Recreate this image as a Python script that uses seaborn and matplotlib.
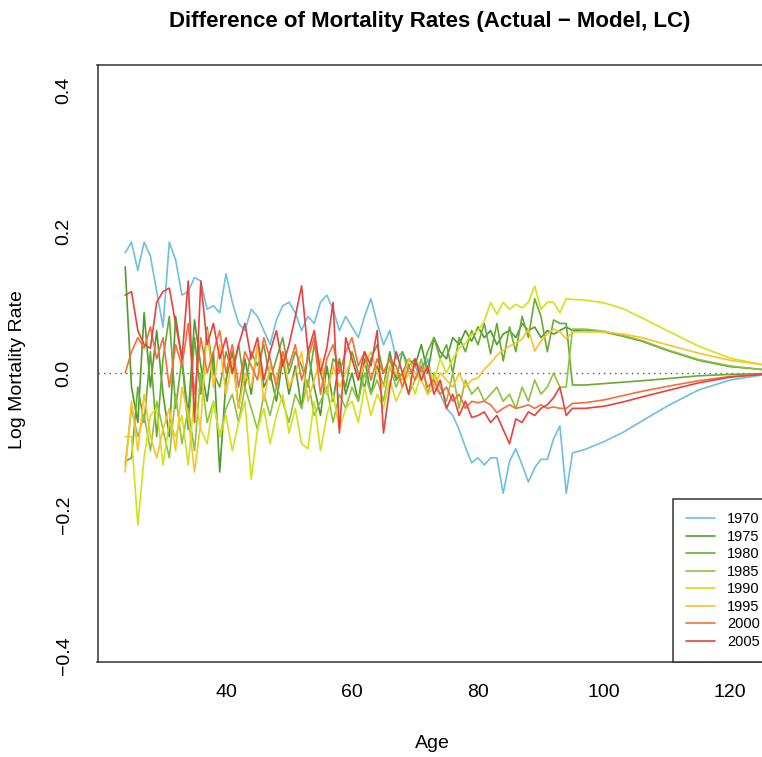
import pandas as pd
import matplotlib
matplotlib.use("Agg")
import matplotlib.pyplot as plt
import seaborn as sns

# ages: yearly up to 95, smooth tail afterwards
ages = list(range(24, 96)) + [97, 100, 103, 106, 110, 115, 120, 125]
years = ['1970', '1975', '1980', '1985', '1990', '1995', '2000', '2005']
colors = ['#6EC0DE', '#4F9B2B', '#68AB30', '#8DC43F', '#D2E21A', '#FCC12B', '#F3703A', '#E9413F']

diff_1970 = [0.17, 0.185, 0.145, 0.185, 0.165, 0.115,
             0.065, 0.185, 0.16, 0.11, 0.115, 0.135, 0.13, 0.09, 0.095, 0.085,
             0.14, 0.10, 0.07, 0.06, 0.09, 0.08, 0.06, 0.04, 0.075, 0.095,
             0.10, 0.085, 0.06, 0.08, 0.07, 0.10, 0.11, 0.09, 0.06, 0.08,
             0.065, 0.05, 0.08, 0.105, 0.07, 0.04, 0.06, 0.02, 0.03, 0.0,
             0.01, -0.01, 0.02, -0.02, -0.03, -0.05, -0.06, -0.08, -0.105, -0.127,
             -0.12, -0.13, -0.12, -0.12, -0.17, -0.125, -0.107, -0.13, -0.154, -0.134,
             -0.122, -0.122, -0.093, -0.075, -0.17, -0.113,
             -0.108, -0.097, -0.084, -0.068, -0.047, -0.024, -0.010, -0.003]

diff_1975 = [0.15, -0.02, -0.07, 0.085, -0.02, 0.06,
             -0.03, -0.09, 0.08, 0.02, -0.06, 0.075, 0.01, -0.04, 0.03, -0.14,
             -0.01, 0.03, -0.05, 0.02, -0.03, 0.04, -0.02, 0.0, -0.04, 0.02,
             -0.03, 0.01, -0.05, 0.03, -0.02, -0.06, 0.01, -0.04, 0.02, -0.03,
             0.0, -0.04, 0.02, -0.03, 0.01, -0.02, 0.03, -0.01, 0.0, 0.02,
             0.01, 0.04, 0.0, 0.05, 0.03, 0.02, 0.05, 0.04, 0.06, 0.045,
             0.065, 0.05, 0.06, 0.04, 0.055, 0.06, 0.05, 0.07, 0.06, 0.065,
             0.05, 0.06, 0.055, 0.06, 0.065, 0.06,
             0.061, 0.058, 0.052, 0.045, 0.032, 0.018, 0.009, 0.005]

diff_1980 = [-0.125, -0.12, -0.02, -0.07, 0.03, -0.09,
             0.02, 0.08, -0.05, 0.02, -0.08, 0.05, -0.03, 0.065, 0.0, -0.02,
             0.03, 0.0, 0.04, -0.02, 0.03, 0.01, 0.04, -0.01, 0.02, 0.05,
             0.0, 0.03, 0.01, -0.02, 0.04, 0.0, -0.03, 0.02, 0.01, -0.02,
             0.03, 0.0, -0.02, 0.02, 0.04, 0.0, 0.02, -0.01, 0.03, 0.01,
             0.02, 0.0, 0.03, 0.05, 0.02, 0.04, 0.0, 0.05, 0.03, 0.06,
             0.04, 0.07, 0.027, 0.07, 0.017, 0.065, 0.03, 0.08, 0.05, 0.105,
             0.08, 0.03, 0.075, 0.07, 0.07, -0.017,
             -0.017, -0.015, -0.013, -0.011, -0.008, -0.004, -0.002, -0.001]

diff_1985 = [-0.13, -0.05, -0.09, -0.06, -0.11, -0.04,
             -0.08, -0.12, -0.03, -0.1, -0.05, -0.11, 0.0, -0.07, -0.04, -0.09,
             -0.05, -0.03, -0.07, -0.02, -0.05, -0.08, -0.03, -0.06, -0.02, -0.04,
             -0.07, -0.03, -0.05, -0.01, -0.06, -0.04, -0.02, -0.07, -0.03, -0.05,
             -0.02, -0.04, 0.0, -0.03, -0.01, -0.04, 0.01, -0.02, 0.0, -0.03,
             -0.01, 0.02, -0.03, 0.0, -0.02, -0.04, 0.0, -0.05, -0.01, -0.03,
             -0.02, -0.04, -0.03, -0.02, -0.04, -0.03, -0.05, -0.02, -0.04, -0.01,
             -0.03, -0.02, 0.0, -0.02, -0.02, 0.062,
             0.062, 0.059, 0.053, 0.046, 0.033, 0.019, 0.010, 0.005]

diff_1990 = [-0.09, -0.09, -0.215, -0.12, -0.06, -0.05,
             -0.13, -0.07, -0.09, -0.06, -0.13, -0.03, -0.08, -0.1, -0.04, -0.09,
             -0.06, -0.11, -0.07, -0.04, -0.15, -0.08, -0.05, -0.1, -0.06, -0.03,
             -0.085, -0.05, -0.1, -0.107, -0.04, -0.11, -0.06, -0.03, -0.08, -0.05,
             -0.04, -0.07, -0.02, -0.06, -0.03, -0.05, -0.01, -0.04, -0.02, 0.0,
             -0.03, 0.0, 0.01, -0.01, 0.02, 0.0, 0.02, 0.035, 0.042, 0.055,
             0.06, 0.073, 0.10, 0.083, 0.10, 0.09, 0.097, 0.092, 0.10, 0.123,
             0.09, 0.10, 0.10, 0.085, 0.105, 0.104,
             0.103, 0.099, 0.091, 0.078, 0.06, 0.038, 0.021, 0.012]

diff_1995 = [-0.14, -0.04, -0.11, -0.03, -0.09, -0.12,
             -0.08, -0.05, -0.11, -0.02, -0.06, -0.14, -0.07, 0.06, -0.02, 0.04,
             -0.03, 0.02, -0.05, 0.0, -0.02, 0.04, -0.04, 0.01, -0.01, 0.03,
             -0.02, 0.0, 0.03, -0.04, -0.01, 0.02, -0.03, 0.01, -0.02, 0.0,
             0.02, -0.01, 0.01, 0.03, 0.0, -0.02, 0.01, 0.0, -0.01, 0.02,
             0.0, -0.01, -0.03, -0.02, 0.0, -0.01, -0.02, 0.0, -0.02, -0.01,
             -0.007, 0.005, 0.014, 0.025, 0.032, 0.038, 0.042, 0.048, 0.062, 0.031,
             0.045, 0.055, 0.062, 0.058, 0.048, 0.058,
             0.058, 0.058, 0.055, 0.05, 0.04, 0.028, 0.018, 0.012]

diff_2000 = [0.0, 0.03, 0.05, 0.035, 0.065, 0.02,
             0.05, -0.02, 0.04, 0.01, 0.07, -0.03, 0.05, 0.0, 0.03, 0.06,
             0.0, 0.04, -0.02, 0.03, 0.01, -0.01, 0.05, 0.02, -0.02, 0.03,
             0.01, 0.04, -0.01, 0.02, 0.05, -0.03, 0.02, 0.04, 0.0, 0.03,
             0.05, 0.01, 0.03, -0.01, 0.02, 0.0, 0.02, 0.01, -0.02, 0.01,
             -0.01, 0.01, -0.02, -0.01, -0.03, -0.02, -0.04, -0.03, -0.05, -0.04,
             -0.042, -0.04, -0.045, -0.056, -0.05, -0.045, -0.05, -0.048, -0.045, -0.05,
             -0.045, -0.05, -0.048, -0.05, -0.05, -0.043,
             -0.042, -0.038, -0.032, -0.026, -0.019, -0.011, -0.005, -0.002]

diff_2005 = [0.11, 0.115, 0.06, 0.04, 0.035, 0.10,
             0.115, 0.12, 0.07, 0.02, 0.13, -0.07, 0.13, 0.04, 0.07, 0.02,
             0.05, 0.0, 0.04, 0.07, 0.02, 0.05, -0.01, 0.03, 0.06, 0.01,
             0.04, 0.08, 0.123, 0.03, 0.06, 0.0, 0.035, 0.1, -0.085, 0.05,
             0.02, -0.01, 0.03, 0.01, 0.06, -0.085, -0.02, 0.03, 0.0, -0.03,
             0.02, -0.01, 0.01, -0.03, -0.01, -0.05, -0.03, -0.06, -0.04, -0.063,
             -0.06, -0.055, -0.07, -0.06, -0.08, -0.1, -0.065, -0.07, -0.055, -0.06,
             -0.05, -0.045, -0.035, -0.02, -0.06, -0.05,
             -0.05, -0.047, -0.041, -0.034, -0.025, -0.014, -0.006, -0.002]

series = [diff_1970, diff_1975, diff_1980, diff_1985,
          diff_1990, diff_1995, diff_2000, diff_2005]

# long format table for seaborn
frames = []
for yr, vals in zip(years, series):
    frames.append(pd.DataFrame({'Age': ages, 'Diff': vals, 'Year': yr}))
df = pd.concat(frames, ignore_index=True)

sns.set_style("white")
plt.rcParams['font.family'] = ['Liberation Sans', 'DejaVu Sans']
plt.rcParams['text.color'] = 'black'
plt.rcParams['xtick.color'] = 'black'
plt.rcParams['ytick.color'] = 'black'

W, H = 762, 757
fig = plt.figure(figsize=(W / 100, H / 100), dpi=100)
# the box runs past the right edge of the picture, as in the original crop
ax = fig.add_axes([97.5 / W, (H - 662) / H, (787 - 97.5) / W, (662 - 65) / H])

sns.lineplot(data=df, x='Age', y='Diff', hue='Year', hue_order=years,
             palette=dict(zip(years, colors)), linewidth=1.2, ax=ax,
             estimator=None, sort=False)

ax.axhline(0, color='#555555', linestyle=(0, (1, 3)), linewidth=1.0, zorder=0)

ax.set_xlim(19.6, 129.05)
ax.set_ylim(-0.4085, 0.4353)
ax.set_xticks([40, 60, 80, 100, 120])
ax.set_yticks([-0.4, -0.2, 0.0, 0.2, 0.4])
ax.set_yticklabels(['\u22120.4', '\u22120.2', '0.0', '0.2', '0.4'],
                   rotation=90, va='center')
ax.tick_params(axis='both', direction='out', length=7, width=1,
               color='#333333', labelcolor='black', labelsize=14)
ax.tick_params(axis='x', pad=9)
ax.tick_params(axis='y', pad=11)
for s in ax.spines.values():
    s.set_color('#333333')
    s.set_linewidth(1.1)
ax.set_xlabel('')
ax.set_ylabel('')

fig.text(430 / W, 1 - 22 / H, 'Difference of Mortality Rates (Actual \u2212 Model, LC)',
         ha='center', va='center', fontsize=16, fontweight='bold')
fig.text(432 / W, 1 - 743 / H, 'Age', ha='center', va='center', fontsize=14)
fig.text(18 / W, 1 - 370 / H, 'Log Mortality Rate', ha='center', va='center',
         rotation=90, fontsize=14)

handles, labels = ax.get_legend_handles_labels()
x0 = (673 - 97.5) / (787 - 97.5)
leg = ax.legend(handles, labels, loc='lower left', mode='expand',
                bbox_to_anchor=(x0, 0, 1 - x0, 0.3), fontsize=10.5,
                frameon=True, fancybox=False, borderaxespad=0,
                handlelength=2.0, handletextpad=0.8, labelspacing=0.24,
                borderpad=0.9)
leg.get_frame().set_edgecolor('#333333')
leg.get_frame().set_linewidth(1.1)
leg.get_frame().set_alpha(1)

fig.savefig('out.png', dpi=100)
